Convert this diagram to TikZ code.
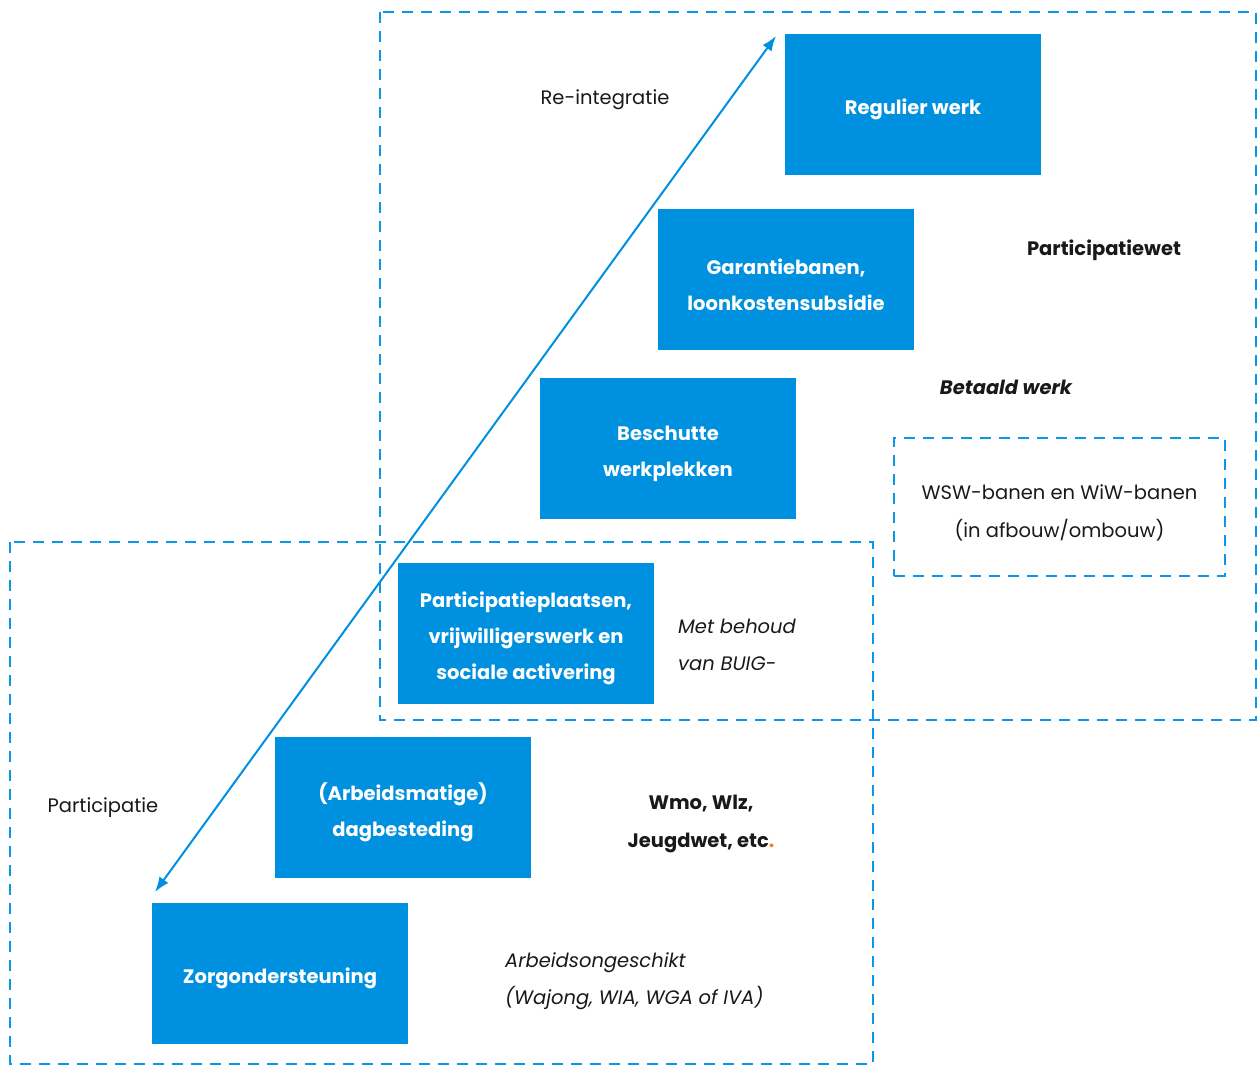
\documentclass[tikz,border=0pt]{standalone}
\usepackage{fontspec}
\setmainfont{Poppins}
\usetikzlibrary{arrows.meta}
\definecolor{bblue}{RGB}{0,144,224}
\definecolor{dblue}{RGB}{10,150,235}
\definecolor{orng}{RGB}{237,125,49}
\newcommand{\fsz}{\fontsize{19.5}{36}\selectfont}
\newcommand{\fszl}{\fontsize{19.5}{37.5}\selectfont}
\tikzset{
  stepbox/.style={fill=bblue, draw=none, minimum width=256pt, minimum height=141pt, inner sep=0pt},
  steptext/.style={text=white, font=\fsz\bfseries, inner sep=0pt, align=center, yshift=-5pt},
  dashbox/.style={draw=dblue, line width=2.6pt, dash pattern=on 11pt off 8pt},
  lbl/.style={font=\fszl, inner sep=0pt, text=black!90},
}
\begin{document}
\begin{tikzpicture}[x=1pt,y=-1pt]
\useasboundingbox (0,0) rectangle (1258,1066);
% dashed regions
\draw[dashbox] (380,12) rectangle (1256,720);
\draw[dashbox] (10,542) rectangle (873,1064);
\node[dashbox, minimum width=331pt, minimum height=138pt, inner sep=0pt] (wswbox) at (1059.5,507) {};
% steps
\node[stepbox] (reg) at (913,104.5) {};
\node[stepbox] (gar) at (786,279.5) {};
\node[stepbox] (bes) at (668,448.5) {};
\node[stepbox] (par) at (526,633.5) {};
\node[stepbox] (arb) at (403,807.5) {};
\node[stepbox] (zor) at (280,973.5) {};
\node[steptext] (regt) at (reg.center) {Regulier werk};
\node[steptext] (gart) at (gar.center) {Garantiebanen,\\loonkostensubsidie};
\node[steptext] (best) at (bes.center) {Beschutte\\werkplekken};
\node[steptext] (part) at (par.center) {Participatieplaatsen,\\vrijwilligerswerk en\\sociale activering};
\node[steptext] (arbt) at (arb.center) {(Arbeidsmatige)\\dagbesteding};
\node[steptext] (zort) at (zor.center) {Zorgondersteuning};
% arrow
\coordinate (alow) at (155,892);
\coordinate (ahigh) at (776,36);
\draw[draw=bblue, line width=2pt, {Latex[length=15pt,width=11pt]}-{Latex[length=15pt,width=11pt]}] (alow) -- (ahigh);
% labels
\node[lbl] (reint) at (605,100) {Re-integratie};
\node[lbl, font=\fszl\bfseries] (pwet) at (1104,250) {Participatiewet};
\node[lbl, font=\fszl\bfseries\itshape] (betaald) at (1006,387) {Betaald werk};
\node[lbl, align=center] (wsw) at (1059.5,513) {WSW-banen en WiW-banen\\(in afbouw/ombouw)};
\node[lbl, align=left, anchor=west, font=\fszl\itshape] (buig) at (678,645) {Met behoud\\van BUIG-};
\node[lbl, align=center, font=\fszl\bfseries] (wmo) at (701,824) {Wmo, Wlz,\\Jeugdwet, etc\textcolor{orng}{.}};
\node[lbl] (partic) at (103,808) {Participatie};
\node[lbl, align=left, anchor=west, font=\fszl\itshape] (arbo) at (505,981) {Arbeidsongeschikt\\(Wajong, WIA, WGA of IVA)};
\end{tikzpicture}
\end{document}
